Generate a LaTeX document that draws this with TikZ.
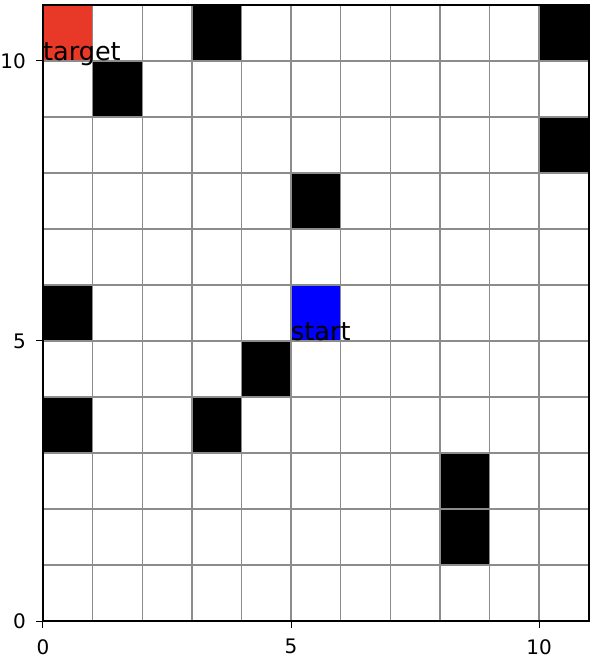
\documentclass[tikz,border=0pt]{standalone}
\usepackage{fontspec}
\setmainfont{DejaVu Sans}
\definecolor{targetred}{RGB}{232,56,40}
\definecolor{gridgray}{RGB}{140,140,140}

\begin{document}
\begin{tikzpicture}[
    x=49.6pt, y=56pt,
    cell/.style={fill=black},
    gridline/.style={draw=gridgray, line width=1.4pt},
    frame/.style={draw=black, line width=2pt},
    tick/.style={draw=black, line width=1pt},
    ticklabel/.style={font=\fontsize{20}{20}\selectfont, inner sep=0pt},
    marklabel/.style={font=\fontsize{25.5}{25.5}\selectfont, inner sep=0pt, anchor=base west},
  ]
  \useasboundingbox (-43pt,-43pt) rectangle (553pt,621pt);

  % cells: obstacles, target and start
  \foreach \cx/\cy in {3/10, 10/10, 1/9, 10/8, 5/7, 0/5, 4/4, 0/3, 3/3, 8/2, 8/1}
    \fill[cell] (\cx,\cy) rectangle ++(1,1);
  \fill[targetred] (0,10) rectangle (1,11);
  \fill[blue] (5,5) rectangle (6,6);

  % grid
  \foreach \i in {1,...,10} {
    \draw[gridline] (\i,0) -- (\i,11);
    \draw[gridline] (0,\i) -- (11,\i);
  }
  \draw[frame] (0,0) rectangle (11,11);

  % ticks
  \foreach \t in {0,5,10} {
    \draw[tick] (\t,0) -- ++(0,-7pt);
    \node[ticklabel, anchor=north] (xt\t) at ([yshift=-18pt]\t,0) {\t};
    \draw[tick] (0,\t) -- ++(-7pt,0);
    \node[ticklabel, anchor=east] (yt\t) at ([xshift=-17pt]0,\t) {\t};
  }

  \node[marklabel] (target) at (0,10) {target};
  \node[marklabel] (start) at (5,5) {start};
\end{tikzpicture}
\end{document}
